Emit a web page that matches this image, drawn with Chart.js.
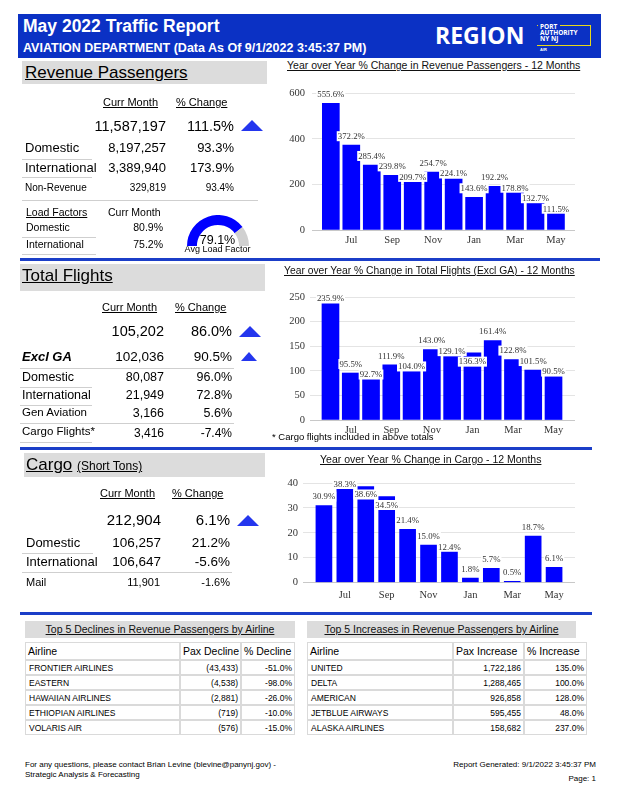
<!DOCTYPE html>
<html><head><meta charset="utf-8">
<script src="https://cdn.jsdelivr.net/npm/chart.js@4/dist/chart.umd.min.js"></script>
<style>
html,body{margin:0;padding:0;background:#fff;}
#page{position:relative;width:618px;height:800px;overflow:hidden;font-family:"Liberation Sans",Arial,sans-serif;color:#000;}
.t{position:absolute;white-space:nowrap;line-height:1;}
.ln{position:absolute;height:1px;}
.box{position:absolute;}
.tri{position:absolute;width:0;height:0;border-left-style:solid;border-right-style:solid;border-bottom-style:solid;border-left-color:transparent;border-right-color:transparent;border-bottom-color:#2436ee;}
.cw{position:absolute;}
table.tb{position:absolute;border-collapse:separate;border-spacing:0;table-layout:fixed;}
table.tb td{border:1px solid #dadada;padding:0 2px;overflow:hidden;white-space:nowrap;}
table.tb tr.h td{height:16px;font-size:10.5px;}
table.tb tr.r td{height:13px;font-size:8.5px;}
table.tb tr.r td:first-child{padding-left:3px;}
table.tb td.n{text-align:right;}
.ttl{position:absolute;background:#dcdcdc;text-align:center;font-size:10.5px;text-decoration:underline;line-height:17px;height:17px;color:#111;}
</style>
</head>
<body>
<div id="page">
  <div class="box" style="left:18px;top:14px;width:583px;height:44px;background:#0b31c4;"></div>
  <div class="box" style="left:537px;top:25px;width:53px;height:19px;border:1.5px solid #e8d71a;border-left:none;"></div>
  <div class="box" style="left:538px;top:23px;width:22px;height:4px;background:#0b31c4;"></div>
  <div class="cw" style="left:280px;top:80px;width:305px;height:172px;"><canvas id="c1"></canvas></div>
  <div class="cw" style="left:280px;top:285px;width:305px;height:157px;"><canvas id="c2"></canvas></div>
  <div class="cw" style="left:275px;top:470px;width:310px;height:135px;"><canvas id="c3"></canvas></div>
  <div class="cw" style="left:186.5px;top:215px;width:62px;height:31px;"><canvas id="g1"></canvas></div>
  <div class="ttl" style="left:25px;top:621px;width:270px;">Top 5 Declines in Revenue Passengers by Airline</div>
  <div class="ttl" style="left:307px;top:621px;width:269px;">Top 5 Increases in Revenue Passengers by Airline</div>
  <table class="tb" id="tblL" style="left:25px;top:642px;width:270px;">
    <colgroup><col style="width:155px"><col style="width:61px"><col style="width:54px"></colgroup>
  </table>
  <table class="tb" id="tblR" style="left:307px;top:642px;width:280px;">
    <colgroup><col style="width:146px"><col style="width:71px"><col style="width:63px"></colgroup>
  </table>
</div>
<script>
// ---------- data ----------
const months = ['Jun','Jul','Aug','Sep','Oct','Nov','Dec','Jan','Feb','Mar','Apr','May'];
const monthTickIdx = [1,3,5,7,9,11];
const paxChange = [555.6,372.2,285.4,239.8,209.7,254.7,224.1,143.6,192.2,178.8,132.7,111.5];
const flightsChange = [235.9,95.5,92.7,111.9,104.0,143.0,129.1,136.3,161.4,122.8,101.5,90.5];
const cargoChange = [30.9,38.3,38.6,34.5,21.4,15.0,12.4,1.8,5.7,0.5,18.7,6.1];
const paxTicks = [0,200,400,600];
const flightsTicks = [0,50,100,150,200,250];
const cargoTicks = [0,10,20,30,40];
const avgLoadFactor = 79.1;

const declineAirlines = ['FRONTIER AIRLINES','EASTERN','HAWAIIAN AIRLINES','ETHIOPIAN AIRLINES','VOLARIS AIR'];
const declinePax = ['(43,433)','(4,538)','(2,881)','(719)','(576)'];
const declinePct = ['-51.0%','-98.0%','-26.0%','-10.0%','-15.0%'];
const increaseAirlines = ['UNITED','DELTA','AMERICAN','JETBLUE AIRWAYS','ALASKA AIRLINES'];
const increasePax = ['1,722,186','1,288,465','926,858','595,455','158,682'];
const increasePct = ['135.0%','100.0%','128.0%','48.0%','237.0%'];

// ---------- text helpers ----------
const page = document.getElementById('page');
function T(txt, x, cy, fs, o){
  o = o || {};
  const d = document.createElement('div');
  d.className = 't';
  d.textContent = txt;
  d.style.fontSize = fs + 'px';
  d.style.top = (cy - fs*0.52) + 'px';
  if (o.r) d.style.right = (618 - x) + 'px';
  else if (o.c) { d.style.left = (x - 100) + 'px'; d.style.width = '200px'; d.style.textAlign = 'center'; }
  else d.style.left = x + 'px';
  if (o.b) d.style.fontWeight = 'bold';
  if (o.i) d.style.fontStyle = 'italic';
  if (o.u) d.style.textDecoration = 'underline';
  if (o.col) d.style.color = o.col;
  if (o.ff) d.style.fontFamily = o.ff;
  d.style.zIndex = 5;
  page.appendChild(d);
  return d;
}
function L(x1, y, x2, col, th){
  const d = document.createElement('div');
  d.className = 'ln';
  d.style.left = x1 + 'px'; d.style.top = y + 'px';
  d.style.width = (x2 - x1) + 'px';
  d.style.height = (th || 1) + 'px';
  d.style.background = col || '#cfcfcf';
  page.appendChild(d);
}
function B(x, y, w, h, col){
  const d = document.createElement('div');
  d.className = 'box';
  d.style.left = x+'px'; d.style.top = y+'px'; d.style.width = w+'px'; d.style.height = h+'px';
  d.style.background = col;
  page.insertBefore(d, page.firstChild.nextSibling);
}
function TRI(x, y, w, h){
  const d = document.createElement('div');
  d.className = 'tri';
  d.style.left = x+'px'; d.style.top = y+'px';
  d.style.borderLeftWidth = (w/2)+'px'; d.style.borderRightWidth = (w/2)+'px'; d.style.borderBottomWidth = h+'px';
  page.appendChild(d);
}
const BLUE = '#1b3ec8';

// header
T('May 2022 Traffic Report', 23, 27, 17.5, {b:1, col:'#fff'});
T('AVIATION DEPARTMENT (Data As Of 9/1/2022 3:45:37 PM)', 23, 48, 12.5, {b:1, col:'#fff'});
T('REGION', 435, 36, 23, {b:1, col:'#fff', ff:'"Open Sans"'});
T('PORT', 540, 27.5, 6.5, {b:1, col:'#fff', ff:'"Open Sans"'});
T('AUTHORITY', 540, 33.5, 6.5, {b:1, col:'#fff', ff:'"Open Sans"'});
T('NY NJ', 540, 39.5, 6.5, {b:1, col:'#fff', ff:'"Open Sans"'});
T('AIR', 540, 50, 4, {b:1, col:'#fff'});

// Revenue passengers
B(22, 61, 245, 23, '#dcdcdc');
T('Revenue Passengers', 25, 73, 17, {u:1});
T('Curr Month', 103, 103, 11, {u:1});
T('% Change', 176, 103, 11, {u:1});
T('11,587,197', 166, 127, 14.5, {r:1});
T('111.5%', 234, 127, 14.5, {r:1});
TRI(241, 120, 22, 11);
T('Domestic', 25, 148, 13); T('8,197,257', 166, 148, 13, {r:1}); T('93.3%', 234, 148, 13, {r:1});
L(22, 159, 92);
T('International', 25, 168, 13); T('3,389,940', 166, 168, 13, {r:1}); T('173.9%', 234, 168, 13, {r:1});
L(22, 177, 92);
T('Non-Revenue', 25, 188, 10); T('329,819', 166, 188, 10, {r:1}); T('93.4%', 234, 188, 10, {r:1});
L(22, 200, 258);
T('Load Factors', 26, 212, 10.5, {u:1}); T('Curr Month', 108, 212, 10.5);
T('Domestic', 26, 227.5, 10.5); T('80.9%', 163, 227.5, 10.5, {r:1});
L(22, 237, 96);
T('International', 26, 244, 10.5); T('75.2%', 163, 244, 10.5, {r:1});
L(22, 254, 96);
T(avgLoadFactor.toFixed(1)+'%', 217.5, 240, 12.5, {c:1});
T('Avg Load Factor', 217.5, 249.5, 9, {c:1});
L(20, 258, 600, BLUE, 2.5);

// Total flights
B(20, 264, 245, 27, '#dcdcdc');
T('Total Flights', 22, 276, 17, {u:1});
T('Curr Month', 102, 308, 11, {u:1});
T('% Change', 175, 308, 11, {u:1});
T('105,202', 164, 332, 14.5, {r:1}); T('86.0%', 232, 332, 14.5, {r:1});
TRI(239, 326, 22, 11);
T('Excl GA', 22, 357, 13, {b:1, i:1}); T('102,036', 164, 357, 13.5, {r:1}); T('90.5%', 232, 357, 13.5, {r:1});
TRI(241, 352, 17, 9);
L(20, 368, 234);
T('Domestic', 22, 377, 12.5); T('80,087', 164, 377, 12.5, {r:1}); T('96.0%', 232, 377, 12.5, {r:1});
L(20, 387, 92);
T('International', 22, 395.5, 12.5); T('21,949', 164, 395.5, 12.5, {r:1}); T('72.8%', 232, 395.5, 12.5, {r:1});
L(20, 405, 92);
T('Gen Aviation', 22, 413, 11.5); T('3,166', 164, 413, 12.5, {r:1}); T('5.6%', 232, 413, 12.5, {r:1});
L(20, 423, 234);
T('Cargo Flights*', 22, 431.5, 11.5); T('3,416', 164, 433, 12, {r:1}); T('-7.4%', 232, 433, 12, {r:1});
L(20, 442, 92);
T('* Cargo flights included in above totals', 272, 436.5, 9.5);
L(20, 447, 592, BLUE, 2.5);

// Cargo
B(24, 453, 241, 24, '#dcdcdc');
T('Cargo', 26, 465, 17, {u:1});
T('(Short Tons)', 77, 466.5, 12, {u:1});
T('Curr Month', 100, 494, 11, {u:1});
T('% Change', 172, 494, 11, {u:1});
T('212,904', 161, 520, 15, {r:1}); T('6.1%', 230, 520, 15, {r:1});
TRI(237, 515, 23, 11);
T('Domestic', 26, 543, 13); T('106,257', 161, 543, 13.5, {r:1}); T('21.2%', 230, 543, 13.5, {r:1});
L(22, 553, 93);
T('International', 26, 562, 13); T('106,647', 161, 562, 13.5, {r:1}); T('-5.6%', 230, 562, 13.5, {r:1});
L(22, 572, 232);
T('Mail', 26, 583, 11); T('11,901', 160, 583, 11, {r:1}); T('-1.6%', 230, 583, 11, {r:1});
L(20, 612, 592, BLUE, 2.5);

// chart titles
T('Year over Year % Change in Revenue Passengers - 12 Months', 287, 65.5, 10.5, {u:1, col:'#111'});
T('Year over Year % Change in Total Flights (Excl GA) - 12 Months', 284, 271.5, 10.3, {u:1, col:'#111'});
T('Year over Year % Change in Cargo - 12 Months', 320, 459.5, 10.5, {u:1, col:'#111'});

// footer
T('For any questions, please contact Brian Levine (blevine@panynj.gov) -', 25, 765, 8);
T('Strategic Analysis & Forecasting', 25, 775.5, 8);
T('Report Generated: 9/1/2022 3:45:37 PM', 596, 765, 8, {r:1});
T('Page: 1', 596, 779, 8, {r:1});

// tables
function fillTable(id, head, a, b, c){
  const tb = document.getElementById(id);
  const tr = document.createElement('tr'); tr.className = 'h';
  head.forEach(h => { const td = document.createElement('td'); td.textContent = h; tr.appendChild(td); });
  tb.appendChild(tr);
  a.forEach((name, i) => {
    const r = document.createElement('tr'); r.className = 'r';
    [name, b[i], c[i]].forEach((v, j) => { const td = document.createElement('td'); td.textContent = v; if (j > 0) td.className = 'n'; r.appendChild(td); });
    tb.appendChild(r);
  });
}
fillTable('tblL', ['Airline','Pax Decline','% Decline'], declineAirlines, declinePax, declinePct);
fillTable('tblR', ['Airline','Pax Increase','% Increase'], increaseAirlines, increasePax, increasePct);

// ---------- charts ----------
const barLabels = {
  id: 'barLabels',
  afterDatasetsDraw(chart){
    const ctx = chart.ctx, meta = chart.getDatasetMeta(0), ds = chart.data.datasets[0];
    ctx.save();
    ctx.font = '8.8px "Liberation Serif"';
    ctx.textAlign = 'center'; ctx.textBaseline = 'middle';
    const placed = []; const h = 10;
    meta.data.forEach((bar, i) => {
      const txt = ds.data[i].y.toFixed(1) + '%';
      const w = ctx.measureText(txt).width + 2;
      let cy = bar.y - 9;
      if (cy < chart.chartArea.top + 1) cy = chart.chartArea.top + 1;
      let moved = true, guard = 0;
      while (moved && guard++ < 20) {
        moved = false;
        for (const p of placed) {
          if (Math.abs(p.x - bar.x) < (p.w + w)/2 && Math.abs(p.y - cy) < h) { cy = p.y + h + 0.5; moved = true; }
        }
      }
      placed.push({x: bar.x, y: cy, w});
      ctx.fillStyle = '#fff';
      ctx.fillRect(bar.x - w/2, cy - h/2, w, h);
      ctx.fillStyle = '#333';
      ctx.fillText(txt, bar.x, cy + 0.5);
    });
    ctx.restore();
  }
};

function barChart(id, values, ticks, cfg){
  const serif = {family: '"Liberation Serif"', size: 10.5};
  return new Chart(document.getElementById(id), {
    type: 'bar',
    data: { datasets: [{ data: values.map((v,i)=>({x:i, y:v})), backgroundColor: '#0000ff', barThickness: cfg.bw, borderWidth: 0 }] },
    options: {
      responsive: true, maintainAspectRatio: false, animation: false,
      layout: { padding: cfg.pad },
      plugins: { legend: {display:false}, tooltip: {enabled:false} },
      scales: {
        x: { type: 'linear', min: cfg.xmin, max: cfg.xmax, offset: false,
             grid: {display:false, drawTicks:false, offset:false}, border: {display:false},
             afterBuildTicks: s => { s.ticks = monthTickIdx.map(v => ({value: v})); },
             afterFit: s => { s.height = cfg.xh; },
             ticks: { callback: v => months[v], font: serif, color: '#333', maxRotation: 0, autoSkip: false, padding: cfg.xpad } },
        y: { min: ticks[0], max: ticks[ticks.length-1],
             afterBuildTicks: s => { s.ticks = ticks.map(v => ({value: v})); },
             afterFit: s => { s.width = cfg.yw; },
             grid: { color: c => c.tick && c.tick.value === 0 ? '#c8c8c8' : '#e4e4e4', drawTicks: false },
             border: {display:false},
             ticks: { font: serif, color: '#333', padding: cfg.ypad } }
      }
    },
    plugins: [barLabels]
  });
}

barChart('c1', paxChange, paxTicks, {bw:17, xmin:-0.92, xmax:11.93, yw:32, xh:22, xpad:4, ypad:7, pad:{left:0,right:10,top:11,bottom:0}});
barChart('c2', flightsChange, flightsTicks, {bw:17, xmin:-1.01, xmax:12.06, yw:30, xh:22, xpad:4, ypad:5, pad:{left:0,right:10,top:12,bottom:0}});
barChart('c3', cargoChange, cargoTicks, {bw:16, xmin:-1.0, xmax:12.0, yw:28, xh:22.5, xpad:6, ypad:5, pad:{left:0,right:10,top:13,bottom:0}});

new Chart(document.getElementById('g1'), {
  type: 'doughnut',
  data: { datasets: [{ data: [avgLoadFactor, 100 - avgLoadFactor], backgroundColor: ['#0000ff', '#d0d0d0'], borderWidth: 0 }] },
  options: { responsive: true, maintainAspectRatio: false, animation: false, rotation: -90, circumference: 180, cutout: '68%',
             layout: {padding: 0}, plugins: {legend:{display:false}, tooltip:{enabled:false}} }
});
</script>
</body></html>
